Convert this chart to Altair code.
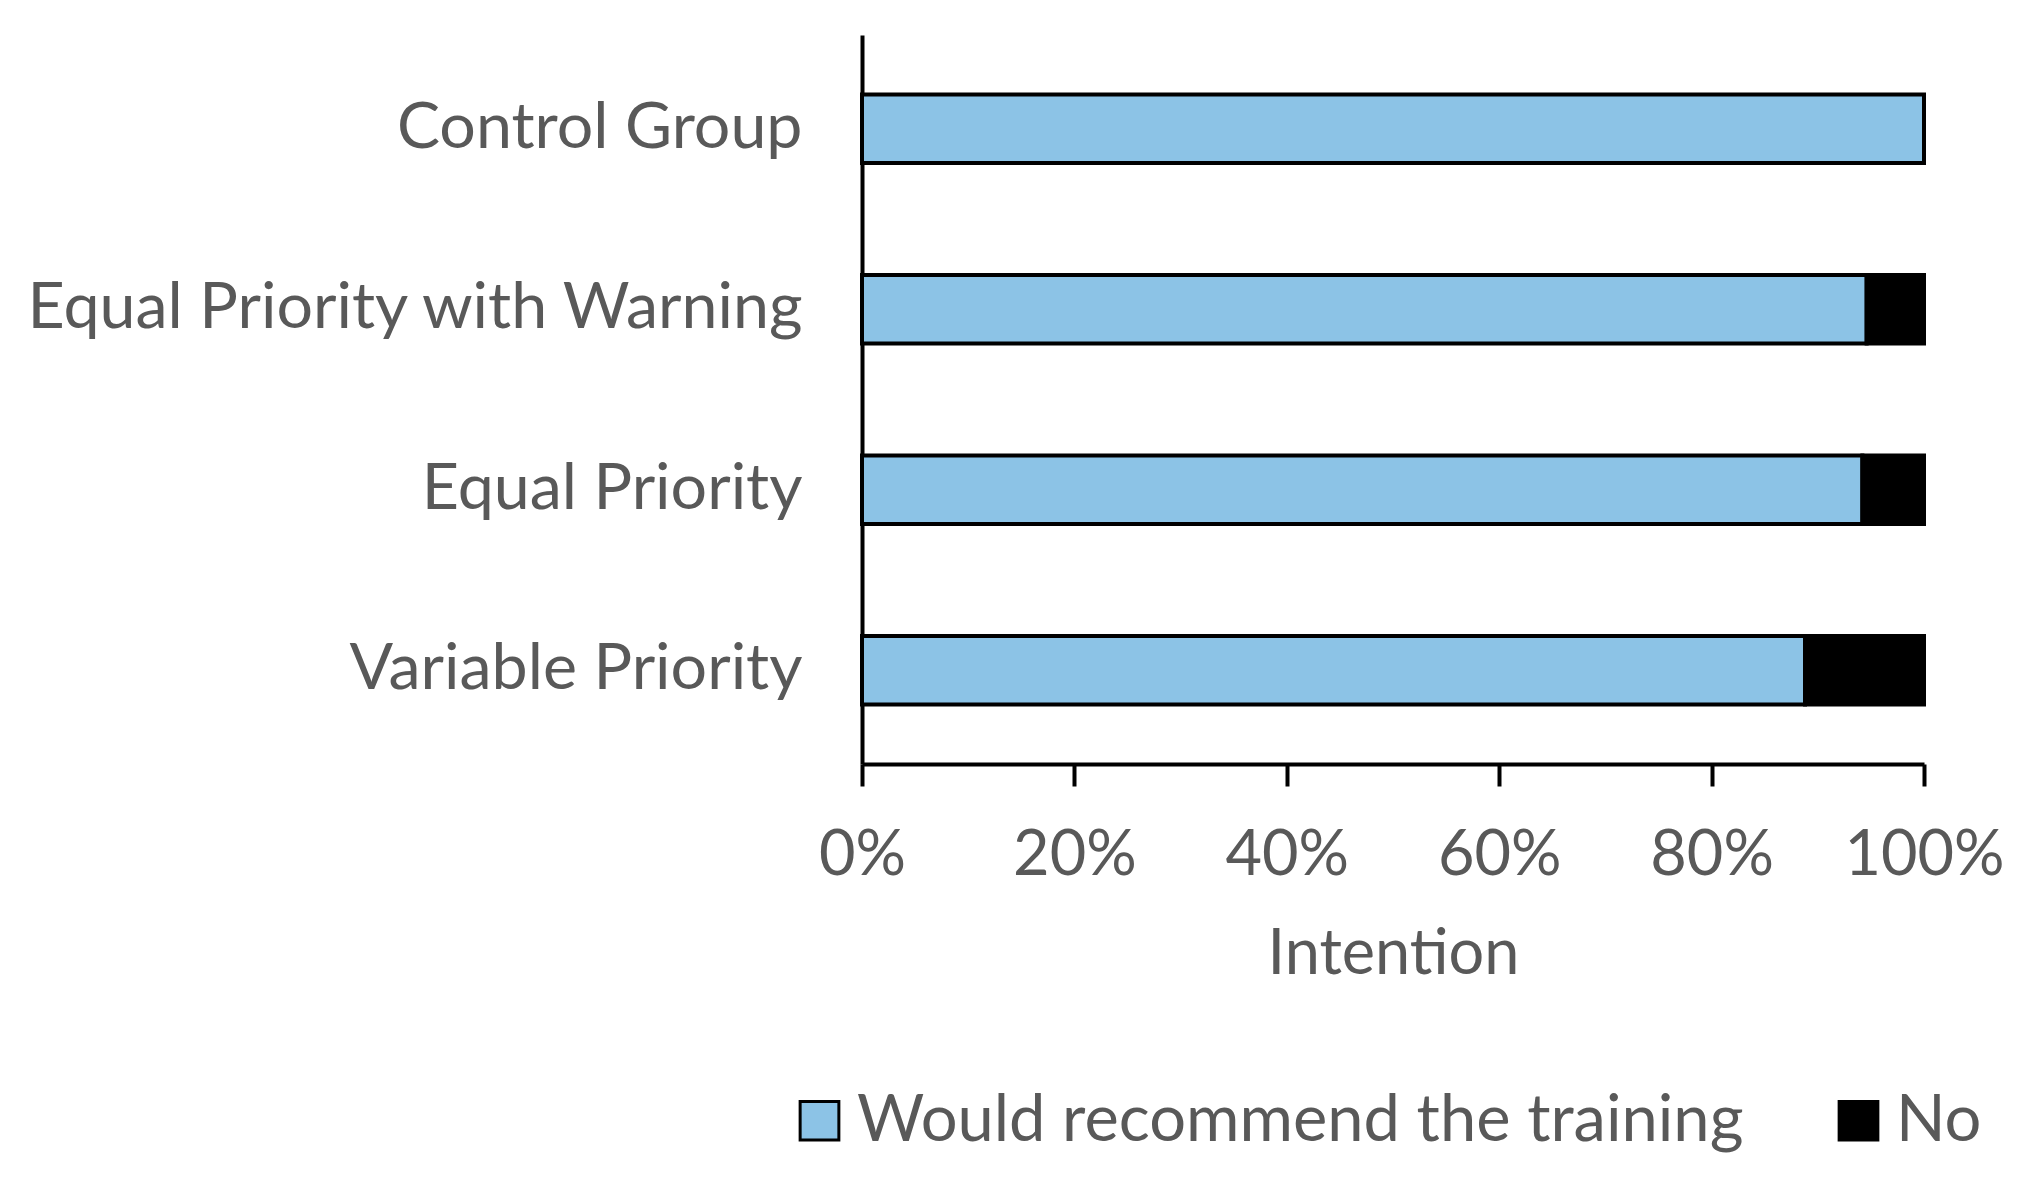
import altair as alt
import pandas as pd

groups = ["Control Group", "Equal Priority with Warning", "Equal Priority", "Variable Priority"]
recommend = [1.000, 0.946, 0.942, 0.888]
no = [0.000, 0.054, 0.058, 0.112]
series = ["Would recommend the training", "No"]
x_ticks = [0, 0.2, 0.4, 0.6, 0.8, 1.0]

rows = []
for g, r, n in zip(groups, recommend, no):
    rows.append({"group": g, "response": series[0], "share": r, "ord": 0})
    rows.append({"group": g, "response": series[1], "share": n, "ord": 1})
df = pd.DataFrame(rows)

FONT = "Lato"
GRAY = "#595959"
FS = 63

chart = alt.Chart(df).mark_bar(stroke="black", strokeWidth=4).encode(
    y=alt.Y(
        "group:N",
        sort=groups,
        scale=alt.Scale(paddingInner=0.62, paddingOuter=0.33),
        axis=alt.Axis(
            title=None, ticks=False, domainColor="black", domainWidth=4,
            labelFontSize=64.5, labelColor=GRAY, labelFont=FONT,
            labelPadding=60, labelLimit=0,
        ),
    ),
    x=alt.X(
        "share:Q",
        stack="zero",
        scale=alt.Scale(domain=[0, 1], nice=False),
        axis=alt.Axis(
            title="Intention", format="%", values=x_ticks, grid=False,
            domainColor="black", domainWidth=4,
            tickColor="black", tickWidth=4, tickSize=22,
            labelFontSize=FS, labelColor=GRAY, labelFont=FONT,
            labelPadding=38, labelFlush=False, labelOverlap=False,
            titleFontSize=FS, titleColor=GRAY, titleFont=FONT,
            titleFontWeight="normal", titlePadding=36,
        ),
    ),
    color=alt.Color(
        "response:N",
        scale=alt.Scale(domain=series, range=["#8CC3E6", "#000000"]),
        legend=alt.Legend(
            title=None, orient="none", direction="horizontal",
            legendX=-75, legendY=1053,
            symbolType="square", symbolSize=1500,
            symbolStrokeColor="black", symbolStrokeWidth=3,
            labelFontSize=65, labelColor=GRAY, labelFont=FONT,
            labelOffset=5, columnPadding=82, labelLimit=2000,
        ),
    ),
    order=alt.Order("ord:Q"),
).properties(
    width=1062,
    height=729,
    padding={"left": 854, "top": 27, "right": 90, "bottom": 400},
    autosize=alt.AutoSizeParams(type="none"),
).configure_view(stroke=None)

chart.save("out.html", embed_options={"renderer": "svg", "actions": False})
